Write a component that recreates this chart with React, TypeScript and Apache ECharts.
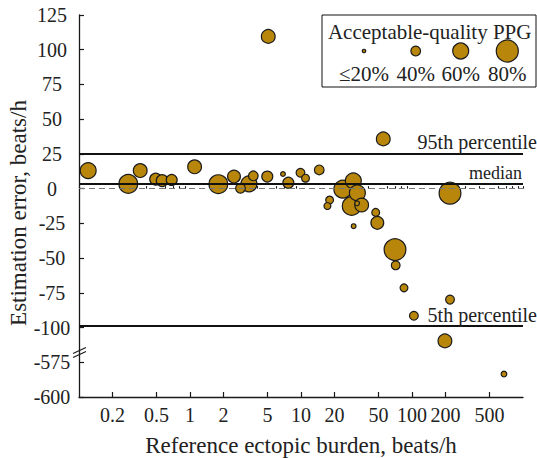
import React, { useEffect, useRef } from "react";
import * as echarts from "echarts";

// Reference ectopic burden (beats/h)
const BURDEN = [
  0.121, 0.278, 0.356, 0.491, 0.562, 0.684, 1.1, 1.8, 2.49, 2.85, 3.4, 3.72, 4.97,
  6.88, 7.69, 9.89, 10.98, 14.6, 18.1, 17.3, 23.8, 29.6, 32.2, 28.6, 35.2, 32.0,
  29.8, 47.1, 48.7, 70.3, 71.3, 84.7, 220, 104, 198, 220, 55.1, 5.07, 674,
];
// Estimation error (beats/h)
const ERROR = [
  13.0, 3.4, 13.0, 6.8, 5.8, 6.3, 15.7, 3.2, 8.7, 0.3, 3.4, 9.2, 8.7,
  10.5, 4.3, 11.4, 7.5, 13.5, -8.2, -12.5, -0.4, 5.6, -3.1, -12.5, -11.8, -10.6,
  -27.0, -17.1, -24.6, -43.9, -55.2, -71.4, -79.9, -91.5, -109.6, -3.3, 35.8, 109.6, -583.5,
];
// Acceptable-quality PPG (%)
const QUALITY = [
  60, 69, 53, 47, 47, 44, 53, 69, 50, 40, 60, 40, 44,
  24, 44, 37, 34, 40, 34, 31, 66, 60, 60, 69, 53, 24,
  24, 34, 50, 79, 37, 34, 37, 37, 53, 79, 53, 53, 27,
];

const X_MAJOR = [0.2, 0.5, 1, 2, 5, 10, 20, 50, 100, 200, 500];
const X_MIN_LOG = -1;
const X_MAX_LOG = 3;
const Y_MIN = -150;
const Y_MAX = 125;
const Y_STEP = 25;
const BREAK_OFFSET = 450; // -575 is drawn at -125
const PERCENTILE_95 = 25;
const MEDIAN = 3.2;
const PERCENTILE_5 = -99;
const LEGEND_LEVELS = [20, 40, 60, 80];
const LEGEND_LABELS = ["≤20%", "40%", "60%", "80%"];

const FONT = "'Liberation Serif', 'Times New Roman', serif";
const GOLD = "#B8860B";
const INK = "#1a1a1a";

const sizeOf = (q: number) => 0.31 * q - 2.7;
const toAxisY = (y: number) => (y < -300 ? y + BREAK_OFFSET : y);

const minorTicks: number[] = [];
[0.1, 1, 10, 100].forEach((d) => {
  for (let k = 1; k <= 9; k++) {
    const v = +(k * d).toPrecision(6);
    if (!X_MAJOR.includes(v)) minorTicks.push(Math.log10(v));
  }
});
minorTicks.push(3);

export default function App() {
  const ref = useRef<HTMLDivElement>(null);
  useEffect(() => {
    if (!ref.current) return;
    const chart = echarts.init(ref.current, null, { renderer: "svg" });
    const order = QUALITY.map((_, i) => i).sort((a, b) => QUALITY[b] - QUALITY[a]);
    const points = order.map((i) => [Math.log10(BURDEN[i]), toAxisY(ERROR[i]), QUALITY[i]]);

    chart.setOption({
      animation: false,
      textStyle: { fontFamily: FONT, color: "#222" },
      grid: { left: 79, right: 14, top: 15, bottom: 61, containLabel: false },
      xAxis: [
        {
          type: "value",
          min: X_MIN_LOG,
          max: X_MAX_LOG,
          position: "bottom",
          axisLine: { show: true, onZero: false, lineStyle: { color: INK, width: 1.3 } },
          axisTick: {
            show: true,
            inside: true,
            length: 5,
            lineStyle: { color: INK, width: 1.2 },
            customValues: X_MAJOR.map((v) => Math.log10(v)),
          },
          axisLabel: {
            fontFamily: FONT,
            fontSize: 20,
            color: "#222",
            margin: 8,
            customValues: X_MAJOR.map((v) => Math.log10(v)),
            formatter: (v: number) => String(+Math.pow(10, v).toPrecision(4)),
          },
          splitLine: { show: false },
        },
        {
          type: "value",
          min: X_MIN_LOG,
          max: X_MAX_LOG,
          position: "bottom",
          axisLine: { show: false },
          axisLabel: { show: false },
          axisTick: {
            show: true,
            inside: true,
            length: 2.5,
            lineStyle: { color: INK, width: 1.1 },
            customValues: minorTicks,
          },
          splitLine: { show: false },
        },
      ],
      yAxis: {
        type: "value",
        min: Y_MIN,
        max: Y_MAX,
        interval: Y_STEP,
        axisLine: { show: true, onZero: false, lineStyle: { color: INK, width: 1.3 } },
        axisTick: { show: true, inside: true, length: 5, lineStyle: { color: INK, width: 1.2 } },
        axisLabel: {
          fontFamily: FONT,
          fontSize: 20,
          color: "#222",
          align: "center",
          margin: 27,
          formatter: (v: number) => String(v < -100 ? v - BREAK_OFFSET : v),
        },
        splitLine: { show: false },
      },
      series: [
        {
          type: "line",
          data: [],
          z: 1,
          markLine: {
            silent: true,
            symbol: "none",
            label: { show: false },
            data: [
              { yAxis: 0, lineStyle: { color: "#777", width: 1, type: [6, 4] } },
              { yAxis: MEDIAN, lineStyle: { color: "#111", width: 2, type: "solid" } },
              { yAxis: PERCENTILE_95, lineStyle: { color: "#111", width: 2, type: "solid" } },
              { yAxis: PERCENTILE_5, lineStyle: { color: "#111", width: 2, type: "solid" } },
            ],
          },
        },
        {
          type: "scatter",
          z: 3,
          data: points,
          symbolSize: (val: number[]) => sizeOf(val[2]),
          itemStyle: { color: GOLD, borderColor: INK, borderWidth: 1.2, opacity: 1 },
        },
      ],
    });

    const px = (x: number, y: number) => chart.convertToPixel({ gridIndex: 0 }, [x, y]) as number[];
    const right = px(X_MAX_LOG, 0)[0];
    const left = px(X_MIN_LOG, 0)[0];
    const bottom = px(X_MIN_LOG, Y_MIN)[1];
    const p95 = px(X_MAX_LOG, PERCENTILE_95)[1];
    const pMed = px(X_MAX_LOG, MEDIAN)[1];
    const p5 = px(X_MAX_LOG, PERCENTILE_5)[1];
    const brk = px(X_MIN_LOG, -118)[1];
    const mid = (px(0, Y_MAX)[1] + px(0, Y_MIN)[1]) / 2;

    const txt = (text: string, x: number, y: number, size: number, align = "right") => ({
      type: "text",
      x,
      y,
      style: {
        text,
        fontFamily: FONT,
        fontSize: size,
        fill: "#222",
        align,
        verticalAlign: "middle",
      },
      z: 10,
    });

    const legendX = [364, 415.7, 460.7, 507.3];
    const graphic: any[] = [
      txt("95th percentile", right + 14, p95 - 11.5, 20),
      txt("median", right - 1, pMed - 11, 18),
      txt("5th percentile", right + 14, p5 - 11, 20),
      txt("Reference ectopic burden, beats/h", (left + right) / 2, bottom + 48, 23, "center"),
      {
        type: "text",
        x: 18,
        y: mid + 7,
        rotation: Math.PI / 2,
        style: {
          text: "Estimation error, beats/h",
          fontFamily: FONT,
          fontSize: 23,
          fill: "#222",
          align: "center",
          verticalAlign: "middle",
        },
      },
      {
        type: "line",
        shape: { x1: left - 6, y1: brk + 1, x2: left + 7, y2: brk - 5 },
        style: { stroke: INK, lineWidth: 1.2 },
        z: 10,
      },
      {
        type: "line",
        shape: { x1: left - 6, y1: brk + 5, x2: left + 7, y2: brk - 1 },
        style: { stroke: INK, lineWidth: 1.2 },
        z: 10,
      },
      {
        type: "rect",
        shape: { x: 322, y: 15, width: 214, height: 72 },
        style: { fill: "#fff", stroke: "#111", lineWidth: 1 },
        z: 20,
      },
      { ...txt("Acceptable-quality PPG", 429.7, 32, 21, "center"), z: 21 },
    ];
    LEGEND_LEVELS.forEach((q, i) => {
      graphic.push({
        type: "circle",
        shape: { cx: legendX[i], cy: 51, r: sizeOf(q) / 2 },
        style: { fill: GOLD, stroke: INK, lineWidth: 1.2 },
        z: 21,
      });
      graphic.push({ ...txt(LEGEND_LABELS[i], legendX[i], 74, 21, "center"), z: 21 });
    });

    chart.setOption({ graphic });
    return () => chart.dispose();
  }, []);

  return (
    <div
      ref={ref}
      style={{ position: "fixed", left: 0, top: 0, width: 537, height: 458, background: "#fff" }}
    />
  );
}
